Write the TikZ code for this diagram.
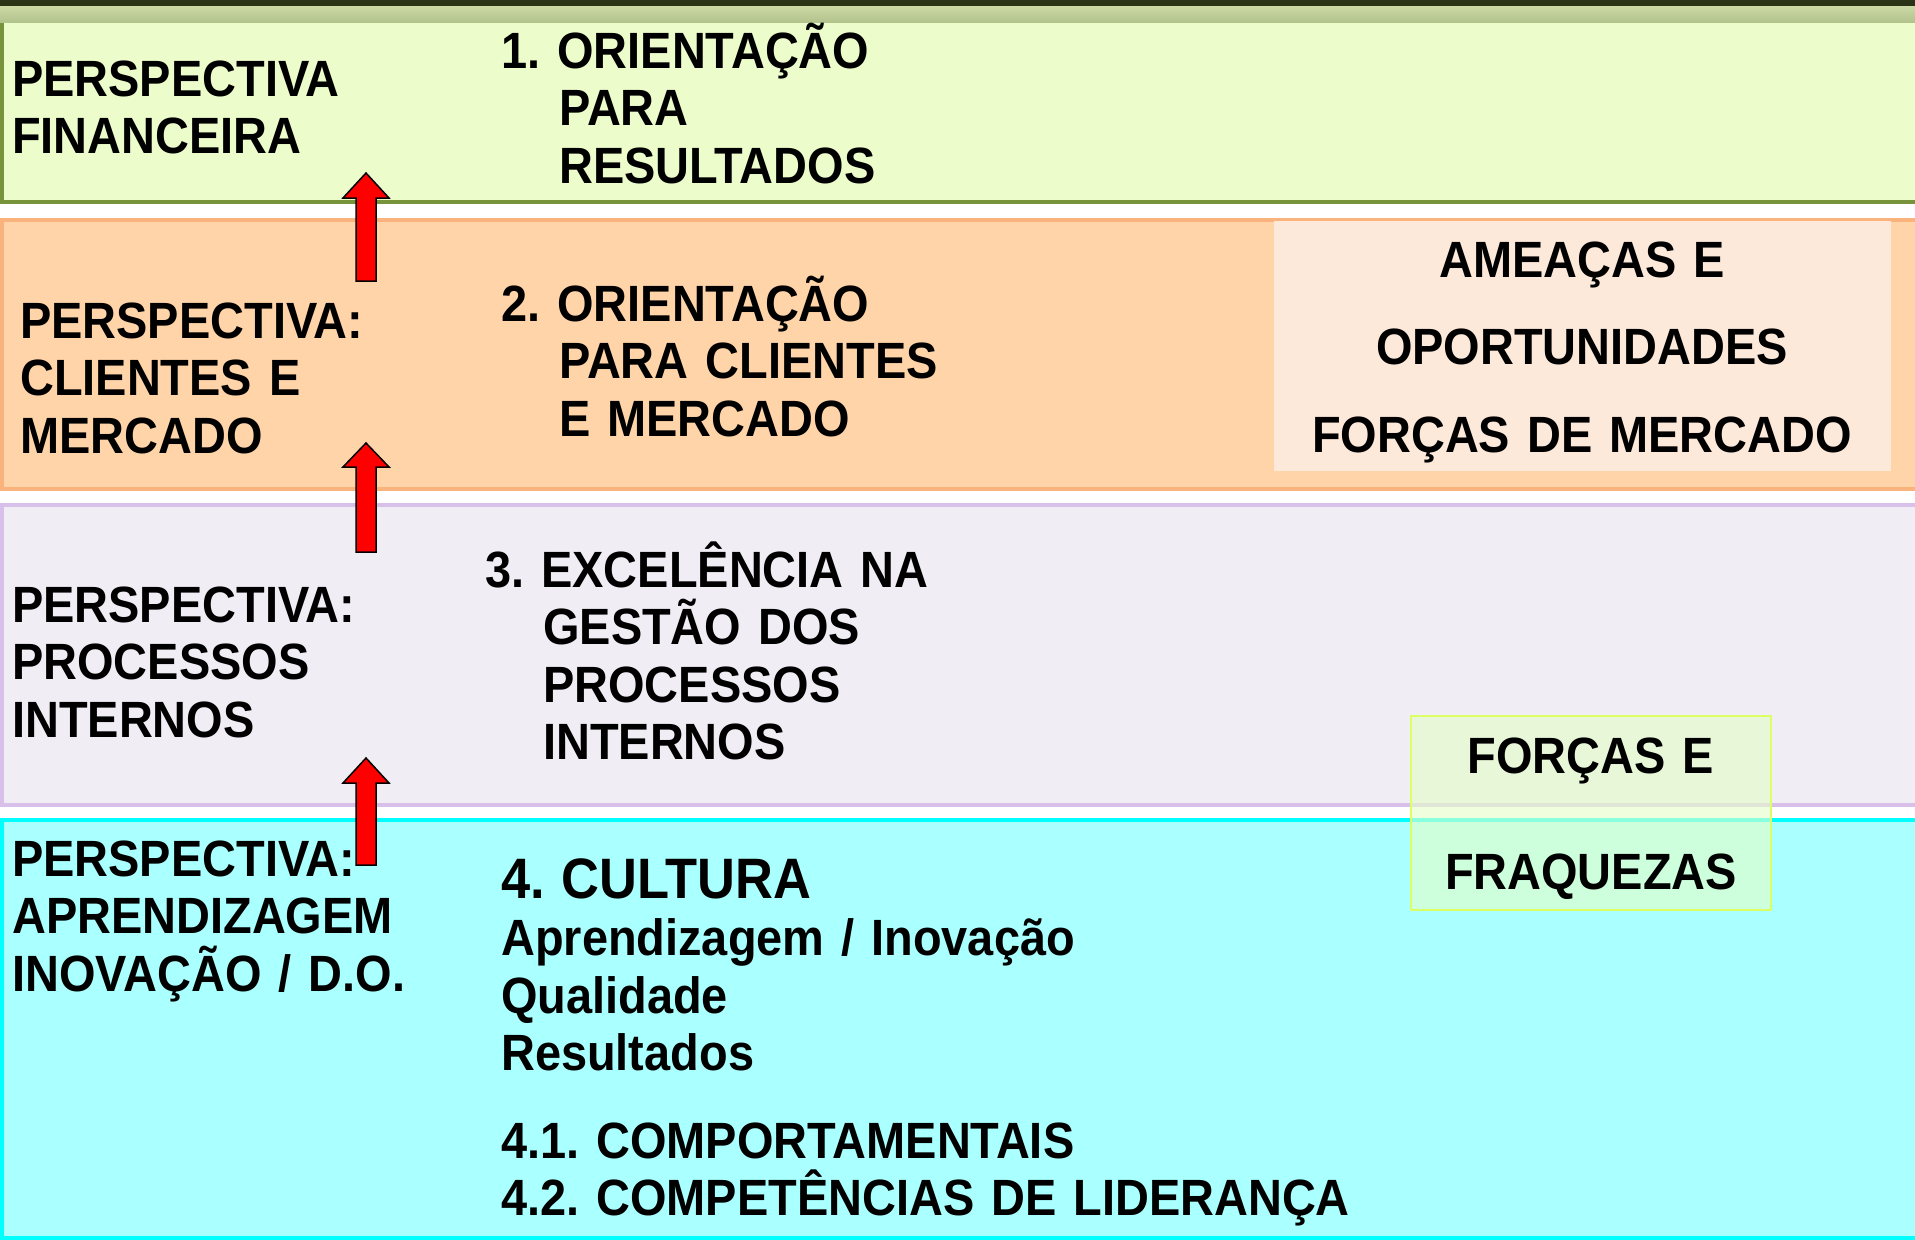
\documentclass[tikz,border=0pt]{standalone}
\usepackage{fontspec}
\setmainfont{Liberation Sans}[FakeStretch=0.92]
\usepackage{tikz}

\definecolor{topdark}{HTML}{2B3317}
\definecolor{stripA}{HTML}{CBD9A6}
\definecolor{stripB}{HTML}{B3C38C}
\definecolor{greenfill}{HTML}{EDFCCB}
\definecolor{greenline}{HTML}{77933C}
\definecolor{orangefill}{HTML}{FED4A8}
\definecolor{orangeline}{HTML}{FAB37C}
\definecolor{peach}{HTML}{FDE9DA}
\definecolor{purplefill}{HTML}{F0EDF5}
\definecolor{purpleline}{HTML}{D9C0EB}
\definecolor{cyanfill}{HTML}{AAFFFF}
\definecolor{cyanline}{HTML}{00FFFF}
\definecolor{swotfill}{HTML}{E5FFC7}
\definecolor{swotline}{HTML}{DDFF66}

\tikzset{
  band/.style={line width=3.5pt},
  persp/.style={anchor=base west, inner sep=0pt, text width=500pt, align=left,
    font=\bfseries\frenchspacing\fontsize{51}{57.5}\selectfont},
  goal/.style={persp, text width=1100pt},
  uparrow/.style={fill=red, draw=black, line width=1.5pt, line join=miter}
}

\begin{document}
\begin{tikzpicture}[x=1pt, y=-1pt]
        \useasboundingbox (0,0) rectangle (1915,1240);
        \fill[white] (0,0) rectangle (1915,1240);

        % bands
        \draw[band, draw=greenline, fill=greenfill] (2,4) rectangle (1925,202);
        \fill[topdark] (0,0) rectangle (1915,6);
        \shade[top color=stripA, bottom color=stripB] (0,6) rectangle (1915,22);
        \draw[band, draw=orangeline, fill=orangefill] (2,220) rectangle (1925,489);
        \draw[band, draw=purpleline, fill=purplefill] (2,505) rectangle (1925,805);
        \draw[band, draw=cyanline, fill=cyanfill] (2,820) rectangle (1925,1238);

        % arrows
        \filldraw[uparrow] (356,281) -- (356,198) -- (343,198) -- (366,173) -- (389,198) -- (376,198) -- (376,281) -- cycle;
        \filldraw[uparrow] (356,552) -- (356,467) -- (343,467) -- (366,443) -- (389,467) -- (376,467) -- (376,552) -- cycle;
        \filldraw[uparrow] (356,865) -- (356,783) -- (343,783) -- (366,758) -- (389,783) -- (376,783) -- (376,865) -- cycle;

        % perspectives
        \node[persp] (fin) at (12,96) {PERSPECTIVA\\FINANCEIRA};
        \node[persp] (cli) at (20,338) {PERSPECTIVA:\\CLIENTES E\\MERCADO};
        \node[persp] (proc) at (12,622) {PERSPECTIVA:\\PROCESSOS\\INTERNOS};
        \node[persp] (apr) at (12,876) {PERSPECTIVA:\\APRENDIZAGEM\\INOVAÇÃO / D.O.};

        % goals
        \node[goal] (res) at (501,68) {1. ORIENTAÇÃO\\\hspace*{58pt}PARA\\\hspace*{58pt}RESULTADOS};
        \node[goal] (merc) at (501,321) {2. ORIENTAÇÃO\\\hspace*{58pt}PARA CLIENTES\\\hspace*{58pt}E MERCADO};
        \node[goal] (gest) at (485,587) {3. EXCELÊNCIA NA\\\hspace*{58pt}GESTÃO DOS\\\hspace*{58pt}PROCESSOS\\\hspace*{58pt}INTERNOS};
        \node[goal] (cult) at (501,898) {{\fontsize{57}{57.5}\selectfont 4. CULTURA}\\Aprendizagem / Inovação\\Qualidade\\Resultados\\[30pt]4.1. COMPORTAMENTAIS\\4.2. COMPETÊNCIAS DE LIDERANÇA};

        % external / internal boxes
        \fill[peach] (1274,221) rectangle (1891,471);
        \node[persp, anchor=base, text width=610pt, align=center, font=\bfseries\fontsize{51}{87.5}\selectfont] (amea) at (1582,277) {AMEAÇAS E\\OPORTUNIDADES\\FORÇAS DE MERCADO};
        \draw[swotline, line width=2.5pt, fill=swotfill, fill opacity=0.6] (1411,716) rectangle (1771,910);
        \node[persp, anchor=base, text width=360pt, align=center, font=\bfseries\fontsize{51}{116}\selectfont] (forc) at (1591,773) {FORÇAS E\\FRAQUEZAS};
    \end{tikzpicture}
\end{document}
